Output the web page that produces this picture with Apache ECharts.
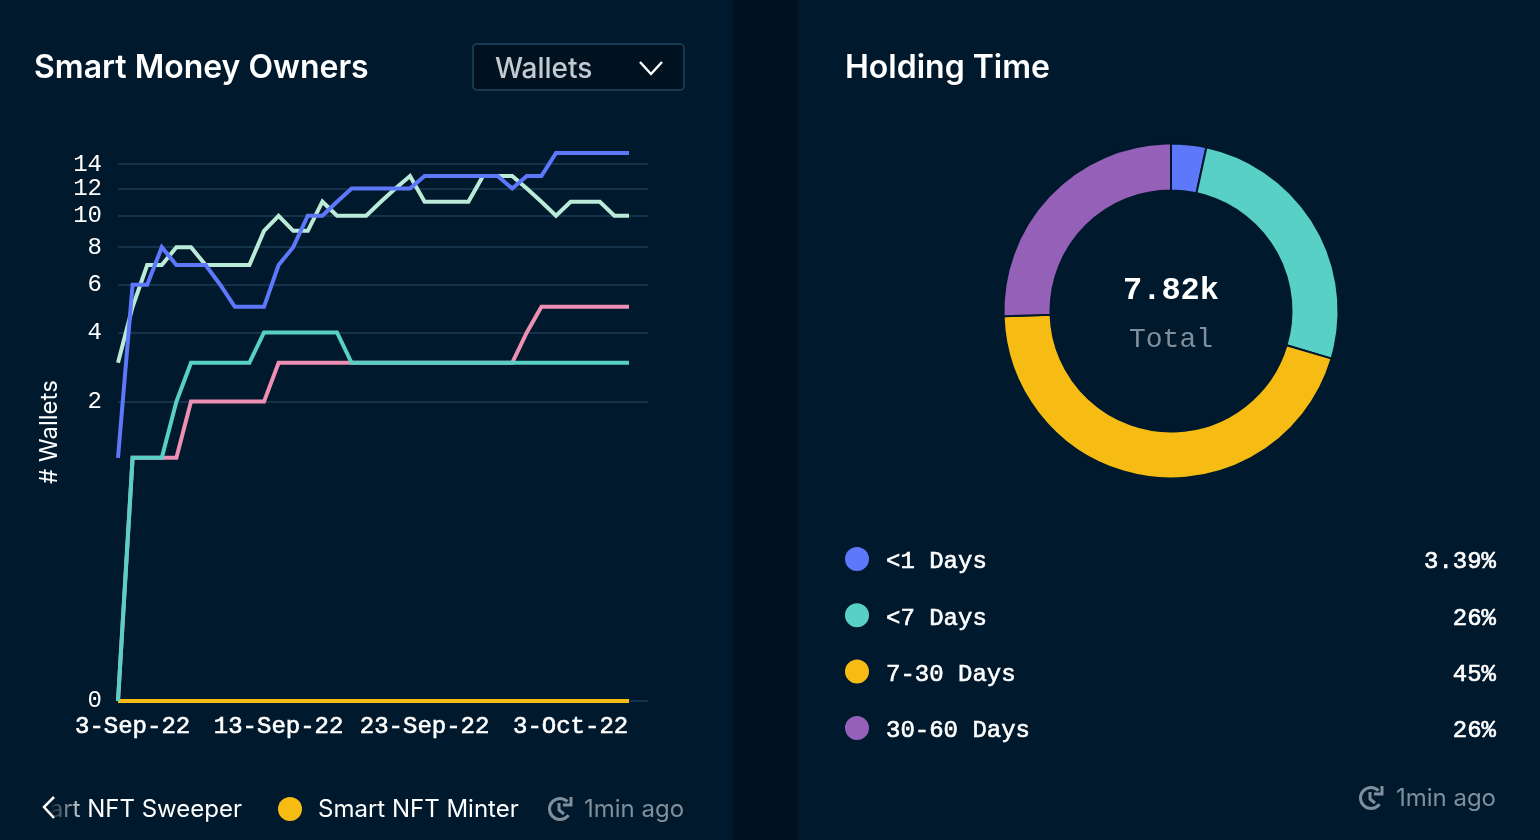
<!DOCTYPE html>
<html><head><meta charset="utf-8">
<style>html,body{margin:0;padding:0;background:#00192c;}#c{width:1540px;height:840px;}</style>
<script src="https://cdn.jsdelivr.net/npm/echarts@6/dist/echarts.min.js"></script>
</head><body><div id="c"></div>
<script>
const xTickLabels = ['3-Sep-22','13-Sep-22','23-Sep-22','3-Oct-22'];
const xTickDays = [1,11,21,31];
const yTicks = [0,2,4,6,8,10,12,14];
const pale = [3,5,7,7,8,8,7,7,7,7,9,10,9,9,11,10,10,10,11,12,13,11,11,11,11,13,13,13,12,11,10,11,11,11,10,10];
const blue = [1,6,6,8,7,7,7,6,5,5,5,7,8,10,10,11,12,12,12,12,12,13,13,13,13,13,13,12,13,13,15,15,15,15,15,15];
const teal = [0,1,1,1,2,3,3,3,3,3,4,4,4,4,4,4,3,3,3,3,3,3,3,3,3,3,3,3,3,3,3,3,3,3,3,3];
const pink = [0,1,1,1,1,2,2,2,2,2,2,3,3,3,3,3,3,3,3,3,3,3,3,3,3,3,3,3,4,5,5,5,5,5,5,5];
const yellow = [0,0,0,0,0,0,0,0,0,0,0,0,0,0,0,0,0,0,0,0,0,0,0,0,0,0,0,0,0,0,0,0,0,0,0,0];
const holdNames = ['<1 Days','<7 Days','7-30 Days','30-60 Days'];
const holdValues = [3.39,26.2,44.9,25.51];
const holdLabels = ['3.39%','26%','45%','26%'];

const BG='#00192c', GUT='#00121f', GRID='#14334a';
const MONO='"Liberation Mono","DejaVu Sans Mono",monospace', SANS='Inter,sans-serif';
const P=0.3, f=v=>Math.pow(v,P), inv=t=>Math.round(Math.pow(t,1/P));
const toPts=a=>a.map((v,i)=>[i,f(v)]);
const line=(name,data,color)=>({name,type:'line',data:toPts(data),showSymbol:false,symbol:'none',silent:true,
  lineStyle:{color,width:4,join:'miter'},itemStyle:{color},xAxisIndex:0,yAxisIndex:0,animation:false});
const clockStyle={fill:null,stroke:'#7f8f9c',lineWidth:3};
const clock=(x,y)=>[
  {type:'arc',silent:true,shape:{cx:x,cy:y,r:10.5,startAngle:-Math.PI*0.25,endAngle:Math.PI*0.2,clockwise:false},style:clockStyle},
  {type:'polyline',silent:true,shape:{points:[[x+11,y-12],[x+11,y-4],[x+3,y-4]]},style:clockStyle},
  {type:'polyline',silent:true,shape:{points:[[x-1,y-6],[x-1,y+1],[x+4,y+5]]},style:clockStyle}
];
const monoLabel={color:'#fff',fontFamily:MONO,fontSize:24,textBorderColor:'#fff',textBorderWidth:0.6};
const chart=echarts.init(document.getElementById('c'));
chart.setOption({
  backgroundColor:BG,animation:false,
  title:[
    {text:'Smart Money Owners',left:34,top:52,padding:0,textStyle:{color:'#fff',fontFamily:SANS,fontSize:32,fontWeight:600}},
    {text:'Holding Time',left:845,top:52,padding:0,textStyle:{color:'#fff',fontFamily:SANS,fontSize:32,fontWeight:600}}
  ],
  grid:{left:118,top:153,width:530,height:548},
  xAxis:{type:'value',min:0,max:36.3,axisLine:{show:false},axisTick:{show:false,customValues:xTickDays},splitLine:{show:false},
    axisLabel:{...monoLabel,customValues:xTickDays,margin:14,
      formatter:v=>xTickLabels[xTickDays.indexOf(Math.round(v))]||''}},
  yAxis:{type:'value',min:0,max:f(15),name:'# Wallets',nameLocation:'middle',nameGap:56,
    nameTextStyle:{color:'#fff',fontFamily:SANS,fontSize:24,padding:[0,10,0,0]},
    axisLine:{show:false},axisTick:{show:false,customValues:yTicks.map(f)},
    splitLine:{show:true,lineStyle:{color:GRID,width:2}},
    axisLabel:{...monoLabel,textBorderWidth:0,fontWeight:500,customValues:yTicks.map(f),margin:16,hideOverlap:false,formatter:v=>String(inv(v))}},
  legend:{data:holdNames,orient:'vertical',left:843,top:544,padding:0,itemWidth:26,itemHeight:26,itemGap:26,icon:'circle',selectedMode:false,
    formatter:n=>`{n|${n}}{v|${holdLabels[holdNames.indexOf(n)]}}`,
    textStyle:{rich:{
      n:{...monoLabel,width:420,padding:[6,0,0,11],lineHeight:24},
      v:{...monoLabel,width:190,align:'right',padding:[6,0,0,0],lineHeight:24}}}},
  series:[
    line('Smart NFT Holder',pale,'#b9ebd8'),
    line('Smart NFT Trader',pink,'#ee8fb4'),
    line('Smart NFT Sweeper',yellow,'#f6bc13'),
    line('Smart NFT Flipper',teal,'#59d0c5'),
    line('Smart NFT Whale',blue,'#5d78fb'),
    {type:'pie',center:[1171,311],radius:[120.5,167.5],startAngle:90,clockwise:true,silent:true,label:{show:false},labelLine:{show:false},
     itemStyle:{borderColor:BG,borderWidth:2},
     data:holdNames.map((name,i)=>({name,value:holdValues[i],itemStyle:{color:['#5d78fb','#59d0c5','#f6bc13','#9560b8'][i]}}))}
  ],
  graphic:[
    {type:'rect',z:-10,silent:true,shape:{x:733,y:0,width:65,height:840},style:{fill:GUT}},
    {type:'rect',silent:true,shape:{x:473,y:44,width:211,height:46,r:4},style:{fill:'#00111f',stroke:'#17384f',lineWidth:2}},
    {type:'text',silent:true,x:495,y:70,style:{text:'Wallets',fill:'#c3cad2',font:'500 28px '+SANS,textVerticalAlign:'middle'}},
    {type:'polyline',silent:true,shape:{points:[[640,62],[651,74],[662,62]]},style:{stroke:'#fff',lineWidth:2.5,fill:null}},
    {type:'text',silent:true,x:1171,y:291,style:{text:'7.82k',fill:'#fff',font:'bold 32px '+MONO,textAlign:'center',textVerticalAlign:'middle'}},
    {type:'text',silent:true,x:1171,y:340,style:{text:'Total',fill:'#7f8f9c',font:'28px '+MONO,textAlign:'center',textVerticalAlign:'middle'}},
    {type:'text',silent:true,x:242,y:810,style:{text:'Smart NFT Sweeper',fill:'#fff',font:'24px '+SANS,textAlign:'right',textVerticalAlign:'middle'}},
    {type:'rect',silent:true,z:5,shape:{x:0,y:790,width:88,height:40},style:{fill:new echarts.graphic.LinearGradient(0,0,1,0,[{offset:0,color:BG},{offset:0.55,color:BG},{offset:1,color:'rgba(0,25,44,0)'}])}},
    {type:'polyline',silent:true,z:6,shape:{points:[[54,797],[44,807],[54,818]]},style:{stroke:'#fff',lineWidth:2.5,fill:null}},
    {type:'circle',silent:true,shape:{cx:290,cy:809,r:12},style:{fill:'#f6bc13'}},
    {type:'text',silent:true,x:318,y:810,style:{text:'Smart NFT Minter',fill:'#fff',font:'24px '+SANS,textVerticalAlign:'middle'}},
    ...clock(560,809),
    {type:'text',silent:true,x:584,y:810,style:{text:'1min ago',fill:'#7f8f9c',font:'24px '+SANS,textVerticalAlign:'middle'}},
    ...clock(1371,798),
    {type:'text',silent:true,x:1496,y:799,style:{text:'1min ago',fill:'#7f8f9c',font:'24px '+SANS,textAlign:'right',textVerticalAlign:'middle'}}
  ]
});
</script></body></html>
